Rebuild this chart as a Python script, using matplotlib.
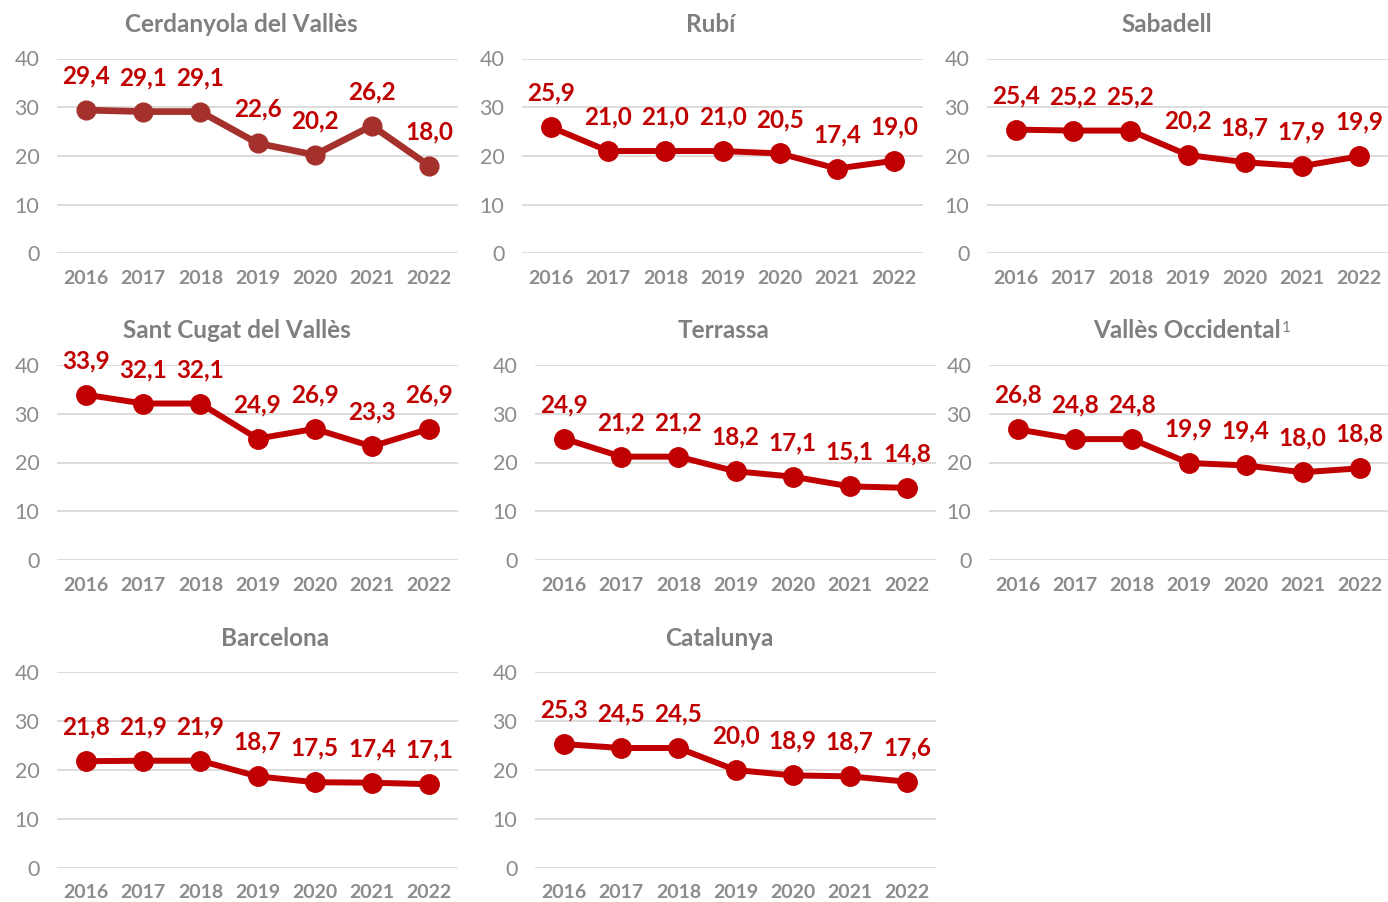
import matplotlib
matplotlib.use("Agg")
import matplotlib.pyplot as plt

plt.rcParams['font.family'] = ['Lato', 'DejaVu Sans']

years = ["2016", "2017", "2018", "2019", "2020", "2021", "2022"]
titles = ["Cerdanyola del Vallès", "Rubí", "Sabadell",
          "Sant Cugat del Vallès", "Terrassa", "Vallès Occidental",
          "Barcelona", "Catalunya"]
title_notes = ["", "", "", "", "", "1", "", ""]
cerdanyola = [29.4, 29.1, 29.1, 22.6, 20.2, 26.2, 18.0]
rubi = [25.9, 21.0, 21.0, 21.0, 20.5, 17.4, 19.0]
sabadell = [25.4, 25.2, 25.2, 20.2, 18.7, 17.9, 19.9]
sant_cugat = [33.9, 32.1, 32.1, 24.9, 26.9, 23.3, 26.9]
terrassa = [24.9, 21.2, 21.2, 18.2, 17.1, 15.1, 14.8]
valles_occ = [26.8, 24.8, 24.8, 19.9, 19.4, 18.0, 18.8]
barcelona = [21.8, 21.9, 21.9, 18.7, 17.5, 17.4, 17.1]
catalunya = [25.3, 24.5, 24.5, 20.0, 18.9, 18.7, 17.6]
series = [cerdanyola, rubi, sabadell, sant_cugat, terrassa, valles_occ,
          barcelona, catalunya]
yticks = [0, 10, 20, 30, 40]

W, H = 1388, 902
fig = plt.figure(figsize=(W / 100, H / 100), dpi=100)
renderer = fig.canvas.get_renderer()

# axes boxes in pixels
rows = [(58.5, 253.3), (365.0, 560.0), (672.3, 867.7)]
cols = [
    (57.4, 457.6, 0), (522.4, 922.6, 0), (987.4, 1387.6, 0),
    (57.4, 457.6, 1), (535.4, 935.6, 1), (989.4, 1388.0, 1),
    (57.4, 457.6, 2), (535.4, 935.6, 2),
]
title_pos = [(241, 24), (711, 24), (1167, 24), (237, 331), (724, 331),
             (1187, 331), (275, 638), (719, 638)]

red = "#C00000"
gray_title = "#7F7F7F"
gray_tick = "#8C8C8C"
grid = "#D9D9D9"

for i, (vals, title) in enumerate(zip(series, titles)):
    l, r, row = cols[i]
    t, b = rows[row]
    ax = fig.add_axes([l / W, 1 - b / H, (r - l) / W, (b - t) / H])
    color = "#A5312D" if i == 0 else red
    lw = 4.8 if i == 0 else 4.3
    ms = 13.5 if i == 0 else 14
    x = list(range(len(years)))
    ax.plot(x, vals, color=color, lw=lw, marker='o', ms=ms, zorder=3,
            clip_on=False)
    for xi, v in zip(x, vals):
        ax.annotate(f"{v:.1f}".replace('.', ','), (xi, v),
                    xytext=(0, 24.5), textcoords='offset points',
                    ha='center', va='center', color=red, fontsize=17.5,
                    fontweight='bold', zorder=4, annotation_clip=False)
    ax.set_xlim(-0.5, len(years) - 0.5)
    ax.set_ylim(0, 40)
    ax.set_yticks(yticks)
    ax.set_yticklabels([str(v) for v in yticks])
    ax.set_xticks(x)
    ax.set_xticklabels(years)
    for s in ax.spines.values():
        s.set_visible(False)
    ax.grid(axis='y', color=grid, lw=1.3)
    ax.set_axisbelow(True)
    ax.tick_params(axis='both', length=0)
    ax.tick_params(axis='y', pad=13, labelsize=15.5, labelcolor=gray_tick)
    ax.tick_params(axis='x', pad=12, labelsize=14, labelcolor=gray_tick)
    for lab in ax.get_xticklabels():
        lab.set_fontweight('bold')
    tx, ty = title_pos[i]
    tt = fig.text(tx / W, 1 - ty / H, title, ha='center', va='center',
                  fontsize=17.5, fontweight='bold', color=gray_title)
    if title_notes[i]:
        bb = tt.get_window_extent(renderer)
        fig.text((bb.x1 + 1) / W, (bb.y1 - 1) / H, title_notes[i],
                 ha='left', va='top', fontsize=11, color=gray_title)

fig.savefig("out.png", dpi=100, facecolor='white')
